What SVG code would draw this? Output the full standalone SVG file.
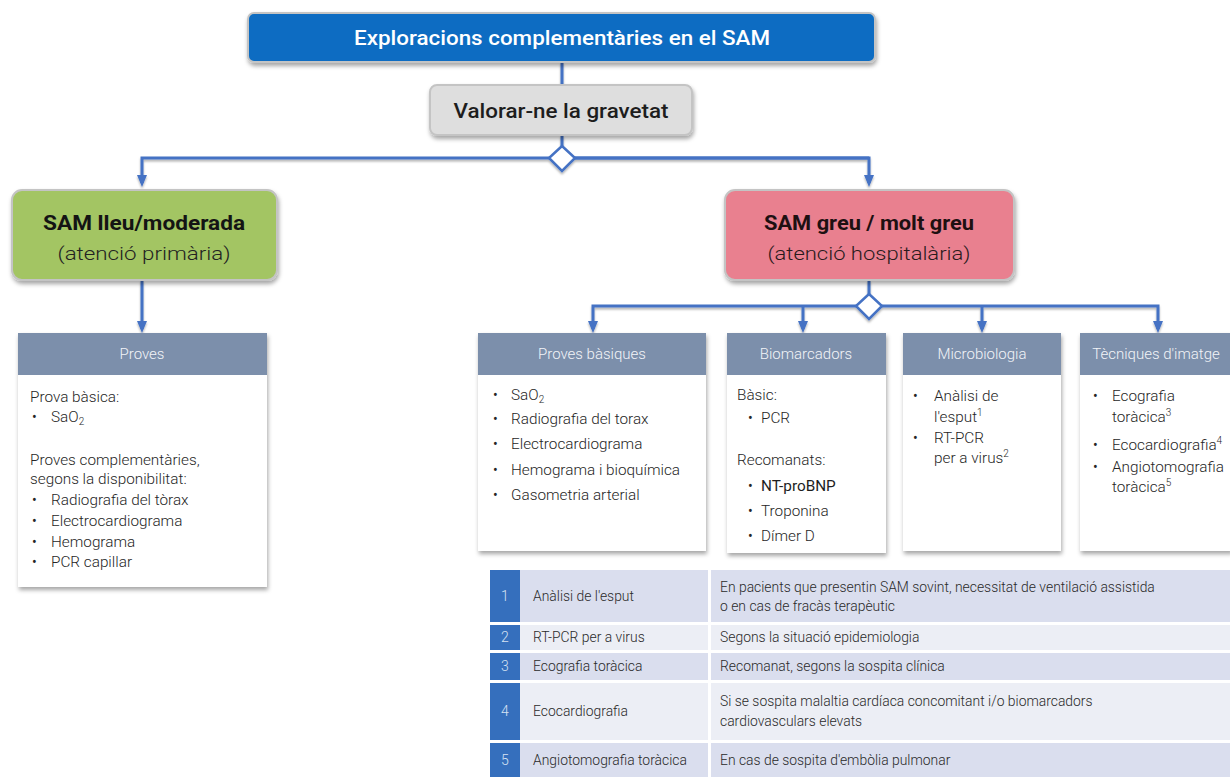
<svg xmlns="http://www.w3.org/2000/svg" width="1230" height="777" viewBox="0 0 1230 777">
  <defs>
    <filter id="shadow" x="-10%" y="-10%" width="125%" height="140%">
      <feDropShadow dx="1" dy="3" stdDeviation="2" flood-color="#000" flood-opacity="0.35"/>
    </filter>
    <filter id="lineShadow" x="-5%" y="-20%" width="110%" height="150%">
      <feDropShadow dx="0" dy="2" stdDeviation="1.2" flood-color="#000" flood-opacity="0.3"/>
    </filter>
    <marker id="arr" viewBox="0 0 12 10" refX="8" refY="5" markerWidth="12" markerHeight="10" markerUnits="userSpaceOnUse" orient="auto">
      <path d="M0,0 L12,5 L0,10 z" fill="#4472c4"/>
    </marker>
    <style>
      .box { stroke: #c4c4c4; stroke-width: 2; filter: url(#shadow); }
      .title { font-family: Roboto, "Liberation Sans", sans-serif; text-anchor: middle; }
      .conn { fill: none; stroke: #4472c4; stroke-width: 3; }
      .dia { fill: #fff; stroke: #4472c4; stroke-width: 2.5; }
      .head { fill: #7c8fab; }
      .headtxt { font-family: Roboto, "Liberation Sans", sans-serif; font-weight: 300; font-size: 15px; fill: #f2f4f8; text-anchor: middle; }
      .body { fill: #fff; filter: url(#shadow); }
      .t { font-family: Roboto, "Liberation Sans", sans-serif; font-weight: 300; font-size: 15.3px; fill: #262626; }
      .tb { font-family: Roboto, "Liberation Sans", sans-serif; font-weight: 400; font-size: 15.3px; fill: #1e1e1e; }
      .bul { font-family: Roboto, "Liberation Sans", sans-serif; font-weight: 400; font-size: 14px; fill: #262626; }
      .sub { font-size: 10px; }
      .row1 { fill: #dadeee; }
      .row2 { fill: #eceef5; }
      .num { fill: #356fbd; }
      .numtxt { font-family: Roboto, "Liberation Sans", sans-serif; font-weight: 300; font-size: 14px; fill: #d6e2f3; text-anchor: middle; }
      .tt { font-family: Roboto, "Liberation Sans", sans-serif; font-weight: 300; font-size: 13.9px; fill: #2a2a2a; }
    </style>
  </defs>

  <rect width="1230" height="777" fill="#fff"/>

  <!-- connectors -->
  <g id="connectors" filter="url(#lineShadow)">
    <path class="conn" d="M562,62 V85"/>
    <path class="conn" d="M562,135 V146"/>
    <path class="conn" d="M869,158 H142 V183" marker-end="url(#arr)"/>
    <path class="conn" d="M562,158 H869 V183" marker-end="url(#arr)"/>
    <path class="conn" d="M142,280 V329" marker-end="url(#arr)"/>
    <path class="conn" d="M869,280 V294"/>
    <path class="conn" d="M869,306 H593 V329" marker-end="url(#arr)"/>
    <path class="conn" d="M803,306 V329" marker-end="url(#arr)"/>
    <path class="conn" d="M869,306 H1158 V329" marker-end="url(#arr)"/>
    <path class="conn" d="M982,306 V329" marker-end="url(#arr)"/>
    <path class="dia" d="M562,146 L575,158 L562,171 L549,158 z"/>
    <path class="dia" d="M869,294 L882,306 L869,319 L856,306 z"/>
  </g>

  <!-- top title -->
  <g id="n-title">
    <rect class="box" x="248" y="13" width="627" height="49" rx="6" fill="#0b6cc2" stroke="#9fb0c2"/>
    <text class="title" x="562" y="45" font-size="20.5" font-weight="500" fill="#fff" textLength="416" lengthAdjust="spacingAndGlyphs">Exploracions complementàries en el SAM</text>
  </g>

  <!-- severity assessment -->
  <g id="n-severity">
    <rect class="box" x="430" y="85" width="262" height="50" rx="7" fill="#dedede" stroke="#b9b9b9"/>
    <text class="title" x="561" y="118" font-size="21" font-weight="500" fill="#1d1d1d" textLength="215" lengthAdjust="spacingAndGlyphs">Valorar-ne la gravetat</text>
  </g>

  <!-- mild / moderate -->
  <g id="n-mild">
    <rect class="box" x="12" y="190" width="265" height="90" rx="10" fill="#a3c563"/>
    <text class="title" x="144" y="230" font-size="21" font-weight="700" fill="#141414" textLength="202" lengthAdjust="spacingAndGlyphs">SAM lleu/moderada</text>
    <text class="title" x="144" y="260" font-size="19" font-weight="300" fill="#222" textLength="173" lengthAdjust="spacingAndGlyphs">(atenció primària)</text>
  </g>

  <!-- severe -->
  <g id="n-severe">
    <rect class="box" x="725" y="190" width="289" height="90" rx="10" fill="#e9808f"/>
    <text class="title" x="869" y="230" font-size="21" font-weight="700" fill="#1e1012" textLength="210" lengthAdjust="spacingAndGlyphs">SAM greu / molt greu</text>
    <text class="title" x="869" y="260" font-size="19" font-weight="300" fill="#2a1a1c" textLength="203" lengthAdjust="spacingAndGlyphs">(atenció hospitalària)</text>
  </g>

  <!-- primary care tests -->
  <g id="n-proves">
    <rect class="body" x="18" y="333" width="249" height="254"/>
    <rect class="head" x="18" y="333" width="249" height="42"/>
    <text class="headtxt" x="142" y="359">Proves</text>
    <text class="t" x="30" y="402">Prova bàsica:</text>
    <text class="bul" x="32" y="422">•</text><text class="t" x="51" y="422">SaO<tspan class="sub" dy="3">2</tspan></text>
    <text class="t" x="30" y="465">Proves complementàries,</text>
    <text class="t" x="30" y="484">segons la disponibilitat:</text>
    <text class="bul" x="32" y="505">•</text><text class="t" x="51" y="505">Radiografia del tòrax</text>
    <text class="bul" x="32" y="526">•</text><text class="t" x="51" y="526">Electrocardiograma</text>
    <text class="bul" x="32" y="547">•</text><text class="t" x="51" y="547">Hemograma</text>
    <text class="bul" x="32" y="567">•</text><text class="t" x="51" y="567">PCR capillar</text>
  </g>

  <!-- basic tests -->
  <g id="n-basiques">
    <rect class="body" x="478" y="333" width="228" height="218"/>
    <rect class="head" x="478" y="333" width="228" height="42"/>
    <text class="headtxt" x="592" y="359">Proves bàsiques</text>
    <text class="bul" x="493" y="400">•</text><text class="t" x="511" y="400">SaO<tspan class="sub" dy="3">2</tspan></text>
    <text class="bul" x="493" y="424">•</text><text class="t" x="511" y="424">Radiografia del torax</text>
    <text class="bul" x="493" y="449">•</text><text class="t" x="511" y="449">Electrocardiograma</text>
    <text class="bul" x="493" y="475">•</text><text class="t" x="511" y="475">Hemograma i bioquímica</text>
    <text class="bul" x="493" y="500">•</text><text class="t" x="511" y="500">Gasometria arterial</text>
  </g>

  <!-- biomarkers -->
  <g id="n-biomarcadors">
    <rect class="body" x="727" y="333" width="159" height="220"/>
    <rect class="head" x="727" y="333" width="159" height="42"/>
    <text class="headtxt" x="806" y="359">Biomarcadors</text>
    <text class="t" x="737" y="400">Bàsic:</text>
    <text class="bul" x="748" y="423">•</text><text class="t" x="761" y="423">PCR</text>
    <text class="t" x="737" y="465">Recomanats:</text>
    <text class="bul" x="748" y="491">•</text><text class="tb" x="761" y="491">NT-proBNP</text>
    <text class="bul" x="748" y="516">•</text><text class="t" x="761" y="516">Troponina</text>
    <text class="bul" x="748" y="541">•</text><text class="t" x="761" y="541">Dímer D</text>
  </g>

  <!-- microbiology -->
  <g id="n-microbiologia">
    <rect class="body" x="903" y="333" width="158" height="218"/>
    <rect class="head" x="903" y="333" width="158" height="42"/>
    <text class="headtxt" x="982" y="359">Microbiologia</text>
    <text class="bul" x="913" y="401">•</text><text class="t" x="934" y="401">Anàlisi de</text>
    <text class="t" x="934" y="422">l'esput<tspan class="sub" dy="-6">1</tspan></text>
    <text class="bul" x="913" y="443">•</text><text class="t" x="934" y="443">RT-PCR</text>
    <text class="t" x="934" y="463">per a virus<tspan class="sub" dy="-6">2</tspan></text>
  </g>

  <!-- imaging -->
  <g id="n-imatge">
    <rect class="body" x="1080" y="333" width="152" height="218"/>
    <rect class="head" x="1080" y="333" width="152" height="42"/>
    <text class="headtxt" x="1156" y="359">Tècniques d'imatge</text>
    <text class="bul" x="1093" y="401">•</text><text class="t" x="1112" y="401">Ecografia</text>
    <text class="t" x="1112" y="422">toràcica<tspan class="sub" dy="-6">3</tspan></text>
    <text class="bul" x="1093" y="450">•</text><text class="t" x="1112" y="450">Ecocardiografia<tspan class="sub" dy="-6">4</tspan></text>
    <text class="bul" x="1093" y="472">•</text><text class="t" x="1112" y="472">Angiotomografia</text>
    <text class="t" x="1112" y="492">toràcica<tspan class="sub" dy="-6">5</tspan></text>
  </g>

  <!-- footnote table -->
  <g id="n-table">
    <rect class="num" x="490" y="570" width="30" height="52"/>
    <rect class="row1" x="520" y="570" width="188" height="52"/>
    <rect class="row1" x="711" y="570" width="519" height="52"/>

    <rect class="num" x="490" y="625" width="30" height="25"/>
    <rect class="row2" x="520" y="625" width="188" height="25"/>
    <rect class="row2" x="711" y="625" width="519" height="25"/>

    <rect class="num" x="490" y="653" width="30" height="27"/>
    <rect class="row1" x="520" y="653" width="188" height="27"/>
    <rect class="row1" x="711" y="653" width="519" height="27"/>

    <rect class="num" x="490" y="683" width="30" height="57"/>
    <rect class="row2" x="520" y="683" width="188" height="57"/>
    <rect class="row2" x="711" y="683" width="519" height="57"/>

    <rect class="num" x="490" y="743" width="30" height="34"/>
    <rect class="row1" x="520" y="743" width="188" height="34"/>
    <rect class="row1" x="711" y="743" width="519" height="34"/>

    <text class="numtxt" x="505" y="601">1</text>
    <text class="numtxt" x="505" y="642">2</text>
    <text class="numtxt" x="505" y="671">3</text>
    <text class="numtxt" x="505" y="716">4</text>
    <text class="numtxt" x="505" y="765">5</text>

    <text class="tt" x="533" y="601">Anàlisi de l'esput</text>
    <text class="tt" x="533" y="642">RT-PCR per a virus</text>
    <text class="tt" x="533" y="671">Ecografia toràcica</text>
    <text class="tt" x="533" y="716">Ecocardiografia</text>
    <text class="tt" x="533" y="765">Angiotomografia toràcica</text>

    <text class="tt" x="720" y="592">En pacients que presentin SAM sovint, necessitat de ventilació assistida</text>
    <text class="tt" x="720" y="611">o en cas de fracàs terapèutic</text>
    <text class="tt" x="720" y="642">Segons la situació epidemiologia</text>
    <text class="tt" x="720" y="671">Recomanat, segons la sospita clínica</text>
    <text class="tt" x="720" y="706">Si se sospita malaltia cardíaca concomitant i/o biomarcadors</text>
    <text class="tt" x="720" y="726">cardiovasculars elevats</text>
    <text class="tt" x="720" y="765">En cas de sospita d'embòlia pulmonar</text>
  </g>
</svg>
